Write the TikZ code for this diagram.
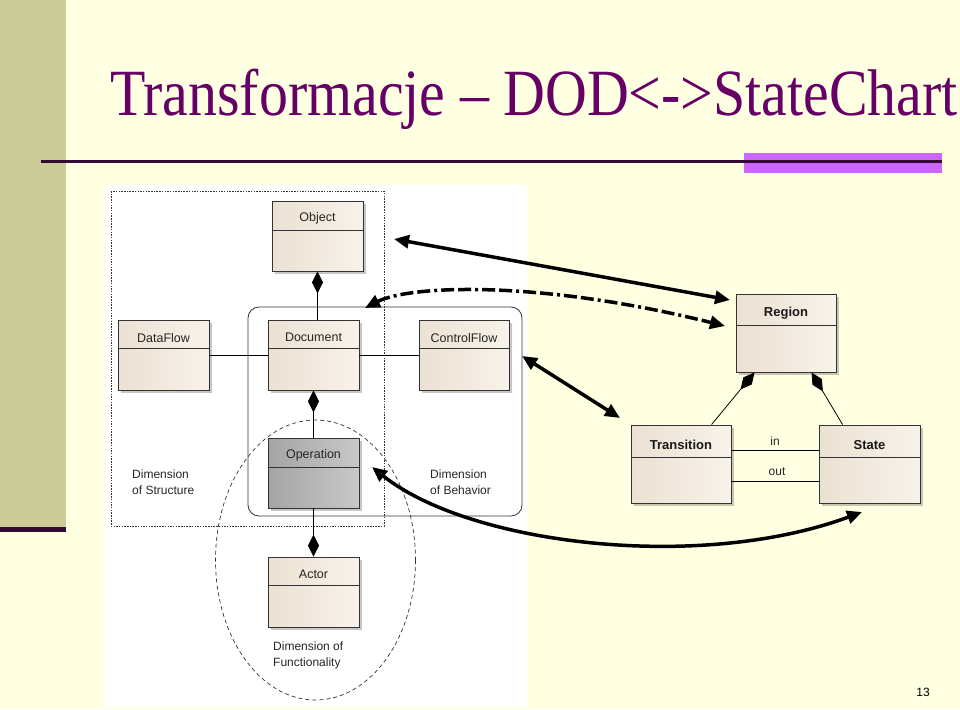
\documentclass[tikz,border=0pt]{standalone}
\usepackage{fontspec}
\setmainfont{Liberation Serif}
\setsansfont{Liberation Sans}
\usetikzlibrary{arrows.meta,shadows,calc}
\definecolor{bgcream}{HTML}{FFFFE1}
\definecolor{khaki}{HTML}{CCCC99}
\definecolor{darkline}{HTML}{330A33}
\definecolor{pinkbar}{HTML}{CC66FF}
\definecolor{titlecol}{HTML}{660066}
\definecolor{boxL}{HTML}{EBE1D3}
\definecolor{boxR}{HTML}{F8F2EA}
\definecolor{boxline}{HTML}{333333}
\definecolor{opL}{HTML}{A4A4A4}
\definecolor{opR}{HTML}{C8C8C8}
\begin{document}
\begin{tikzpicture}[x=1pt,y=-1pt,
  umlbox/.style={draw=boxline, line width=0.9pt, left color=boxL, right color=boxR,
    minimum width=91pt, minimum height=70pt, inner sep=0pt,
    drop shadow={shadow xshift=3pt, shadow yshift=-3pt, fill=black, opacity=0.22}},
  opbox/.style={umlbox, left color=opL, right color=opR},
  rbox/.style={umlbox, minimum width=100pt, minimum height=78pt},
  lbl/.style={font=\sffamily\fontsize{12.5}{14}\selectfont, inner sep=0pt, text=black!85},
  blbl/.style={font=\sffamily\bfseries\fontsize{13}{15}\selectfont, inner sep=0pt, text=black!90},
  dimtxt/.style={font=\sffamily\fontsize{12}{15.5}\selectfont, inner sep=0pt, align=left, anchor=north west, text=black!85},
  conn/.style={draw=black, line width=0.8pt},
  comp/.style={conn, -{Diamond[length=22pt,width=11pt]}},
  bigarrow/.style={line width=3.5pt, {Triangle[length=15pt,width=13pt]}-{Triangle[length=15pt,width=13pt]}},
  hdr/.style={draw=boxline, line width=0.9pt}
]
% background
\fill[bgcream] (0,0) rectangle (960,709);
\useasboundingbox (0,0) rectangle (960,709);
\fill[khaki] (0,0) rectangle (66,527);
\fill[darkline] (0,527) rectangle (66,532);
% title
\node[anchor=base west, inner sep=0pt, text=titlecol, font=\fontsize{66}{66}\selectfont] (title) at (110,115) {\scalebox{0.877}[1]{Transformacje – DOD<->StateChart}};
% rule
\fill[pinkbar] (744,153) rectangle (942,173);
\draw[darkline, line width=2.2pt] (41,161.5) -- (942,161.5);
% white picture area
\fill[white] (105,185) rectangle (527,707);
% dimension outlines
\draw[black!80, line width=0.7pt, dash pattern=on 1.5pt off 1.2pt] (111,191) rectangle (384,526);
\draw[black!80, line width=0.8pt, rounded corners=11pt] (248,307) rectangle (522,516);
\draw[black!80, line width=0.7pt, dash pattern=on 4pt off 3pt] (315.5,560) ellipse [x radius=100, y radius=140];
% left UML boxes
\node[umlbox] (object) at (317.5,236) {};
\node[umlbox] (document) at (313.5,355) {};
\node[umlbox] (dataflow) at (163.5,355) {};
\node[umlbox, minimum width=90pt] (controlflow) at (464,355) {};
\node[opbox] (operation) at (313.5,473) {};
\node[umlbox] (actor) at (313.5,592) {};
\foreach \b/\h in {object/30, document/29, dataflow/29, controlflow/29, operation/30, actor/29}{
  \draw[hdr] ($(\b.north west)+(0,\h)$) -- ($(\b.north east)+(0,\h)$);
}
\node[lbl] (objectlbl) at ($(object.north)+(0,17.5)$) {Object};
\node[lbl] (documentlbl) at ($(document.north)+(0,18)$) {Document};
\node[lbl] (dataflowlbl) at ($(dataflow.north)+(0,18)$) {DataFlow};
\node[lbl] (controlflowlbl) at ($(controlflow.north)+(0,18)$) {ControlFlow};
\node[lbl] (operationlbl) at ($(operation.north)+(0,18)$) {Operation};
\node[lbl] (actorlbl) at ($(actor.north)+(0,18)$) {Actor};
% left connectors
\draw[conn] (dataflow.east) -- (document.west);
\draw[conn] (document.east) -- (controlflow.west);
\draw[comp] (document.north -| object.south) -- (object.south);
\draw[comp] (operation.north) -- (document.south);
\draw[comp] (operation.south) -- (actor.north);
% dimension texts
\node[dimtxt] (dimstruct) at (132,470) {Dimension\\of Structure};
\node[dimtxt] (dimbeh) at (430,470) {Dimension\\of Behavior};
\node[dimtxt] (dimfunc) at (273,642) {Dimension of\\Functionality};
% right UML boxes
\node[rbox] (region) at (786,333) {};
\node[rbox] (transition) at (681,464) {};
\node[rbox, minimum width=101pt] (state) at (869.5,464) {};
\draw[hdr] ($(region.north west)+(0,32)$) -- ($(region.north east)+(0,32)$);
\draw[hdr] ($(transition.north west)+(0,33)$) -- ($(transition.north east)+(0,33)$);
\draw[hdr] ($(state.north west)+(0,33)$) -- ($(state.north east)+(0,33)$);
\node[blbl] (regionlbl) at ($(region.north)+(0,20)$) {Region};
\node[blbl] (transitionlbl) at ($(transition.north)+(0,20)$) {Transition};
\node[blbl] (statelbl) at ($(state.north)+(0,20)$) {State};
\draw[comp] ($(transition.north west)+(81,0)$) -- ($(region.south west)+(19,0)$);
\draw[comp] ($(state.north west)+(24,0)$) -- ($(region.south west)+(76,0)$);
\draw[conn] ($(transition.north east)+(0,26)$) -- ($(state.north west)+(0,26)$);
\draw[conn] ($(transition.north east)+(0,57)$) -- ($(state.north west)+(0,57)$);
\node[lbl, font=\sffamily\fontsize{12}{14}\selectfont] (inlbl) at (775,441) {in};
\node[lbl, font=\sffamily\fontsize{12}{14}\selectfont] (outlbl) at (777,472) {out};
% mapping arrows
\coordinate (a1s) at (394,239);
\coordinate (a1e) at (730,300);
\coordinate (a2s) at (365,308);
\coordinate (a2e) at (725,326);
\coordinate (a3s) at (522,356);
\coordinate (a3e) at (620,418);
\coordinate (a4s) at (372,467);
\coordinate (a4e) at (862,512);
\draw[bigarrow] (a1s) -- (a1e);
\draw[bigarrow, dash pattern=on 13pt off 4pt on 3pt off 4pt on 13pt off 4pt] (a2s) .. controls (410,285) and (540,280) .. (a2e);
\draw[bigarrow] (a3s) -- (a3e);
\draw[bigarrow] (a4s) .. controls (470,545) and (700,572) .. (a4e);
% page number
\node[font=\sffamily\fontsize{12}{14}\selectfont, inner sep=0pt] (pagenum) at (923,692) {13};
\end{tikzpicture}
\end{document}
